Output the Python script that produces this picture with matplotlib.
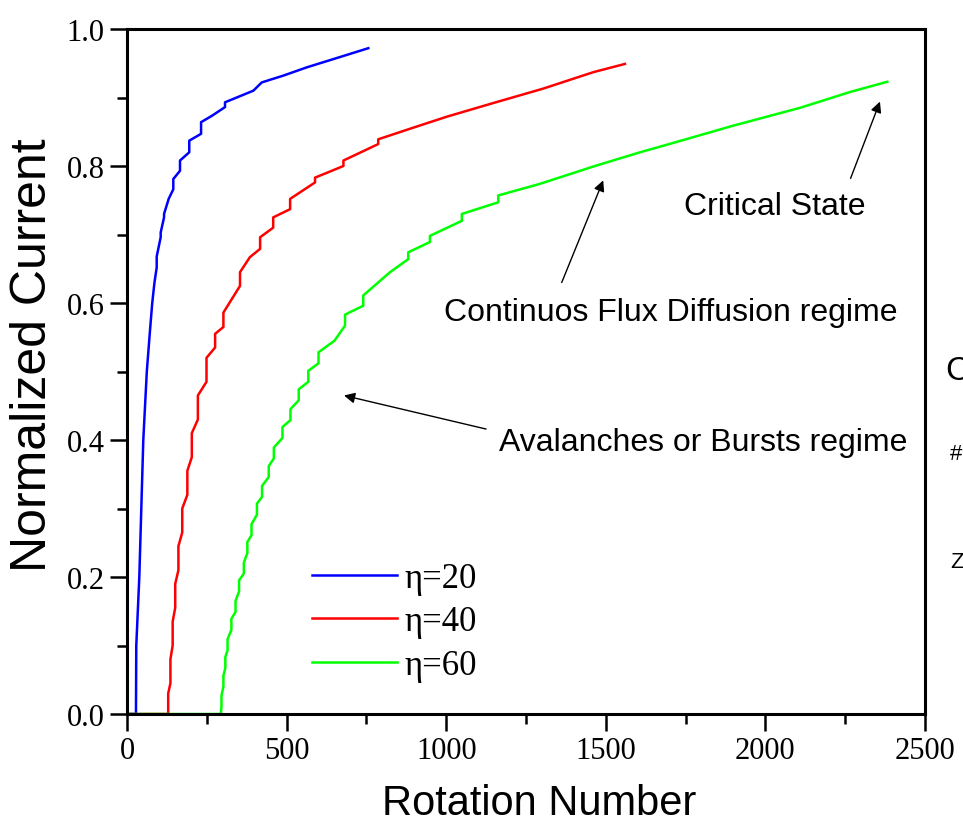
import matplotlib
matplotlib.use('Agg')
import matplotlib.pyplot as plt
from matplotlib.ticker import MultipleLocator, FormatStrFormatter

# normalized current vs rotation number, stair-like curves for three eta values
blue_x = [0, 28, 29, 38.5, 51, 62, 72, 79, 86, 93, 93, 105.5, 105.5, 116, 116, 130.5, 145, 145, 166, 166,
          195, 195, 232, 232, 265, 307, 307, 396, 422, 490, 563, 646, 756]
blue_y = [0, 0, 0.1, 0.2, 0.4, 0.5, 0.56, 0.6, 0.63, 0.652, 0.668, 0.696, 0.703, 0.725, 0.730, 0.752, 0.766,
          0.781, 0.793, 0.808, 0.820, 0.837, 0.847, 0.864, 0.873, 0.886, 0.893, 0.910, 0.922, 0.932, 0.944,
          0.956, 0.972]

red_x = [0, 129, 129, 136, 136, 143, 143, 151, 151, 161, 161, 173, 173, 189, 189, 203, 203, 222, 222, 249, 249,
         276, 276, 302, 302, 354, 354, 385, 417, 417, 458, 458, 511, 511, 589, 589, 678, 678, 787, 787,
         897, 1002, 1148, 1304, 1461, 1560]
red_y = [0, 0, 0.03, 0.045, 0.08, 0.1, 0.135, 0.155, 0.19, 0.21, 0.245, 0.265, 0.3, 0.32, 0.355, 0.375, 0.41,
         0.43, 0.465, 0.485, 0.52, 0.535, 0.555, 0.565, 0.586, 0.625, 0.645, 0.667, 0.679, 0.696, 0.710, 0.725,
         0.737, 0.752, 0.776, 0.783, 0.800, 0.808, 0.832, 0.839, 0.856, 0.872, 0.892, 0.913, 0.937, 0.949]

green_x = [0, 294, 296, 296, 302, 302, 308, 308, 315, 315, 327, 327, 340, 340, 351, 351, 366, 366, 377, 377,
           390, 390, 407, 407, 423, 423, 444, 444, 460, 460, 487, 487, 512, 512, 538, 538, 568, 568, 600, 600,
           650, 683, 683, 740, 740, 824, 881, 881, 949, 949, 1049, 1049, 1163, 1163, 1294, 1466, 1607, 1691,
           1900, 2109, 2265, 2382]
green_y = [0, 0, 0.011, 0.027, 0.040, 0.056, 0.067, 0.083, 0.093, 0.109, 0.123, 0.139, 0.149, 0.165, 0.179,
           0.195, 0.205, 0.221, 0.235, 0.251, 0.261, 0.277, 0.291, 0.307, 0.317, 0.333, 0.346, 0.362, 0.373,
           0.389, 0.403, 0.419, 0.429, 0.445, 0.458, 0.474, 0.485, 0.501, 0.512, 0.528, 0.545, 0.567, 0.583,
           0.596, 0.611, 0.645, 0.664, 0.674, 0.689, 0.698, 0.720, 0.730, 0.747, 0.757, 0.774, 0.800, 0.820,
           0.831, 0.859, 0.885, 0.908, 0.923]

labels = ['\u03b7=20', '\u03b7=40', '\u03b7=60']

fig = plt.figure(figsize=(9.63, 8.29), dpi=100)
ax = fig.add_axes([0.1319, 0.1375, 0.8286, 0.8263])

ax.plot(blue_x, blue_y, color='#0000ff', lw=1.8, label=labels[0])
ax.plot(red_x, red_y, color='#ff0000', lw=1.8, label=labels[1])
ax.plot(green_x, green_y, color='#00ff00', lw=1.8, label=labels[2])

ax.set_xlim(0, 2500)
ax.set_ylim(0, 1.0)
ax.xaxis.set_major_locator(MultipleLocator(500))
ax.xaxis.set_minor_locator(MultipleLocator(250))
ax.yaxis.set_major_locator(MultipleLocator(0.2))
ax.yaxis.set_minor_locator(MultipleLocator(0.1))
ax.yaxis.set_major_formatter(FormatStrFormatter('%.1f'))

for s in ax.spines.values():
    s.set_linewidth(2.2)
ax.tick_params(which='major', direction='out', length=12, width=1.8, pad=4)
ax.tick_params(which='minor', direction='out', length=7, width=1.8)
for lab in ax.get_xticklabels() + ax.get_yticklabels():
    lab.set_fontfamily('Liberation Serif')
    lab.set_fontsize(22)

ax.set_xlabel('Rotation Number', fontfamily='Liberation Sans', fontsize=30, labelpad=13)
ax.set_ylabel('Normalized Current', fontfamily='Liberation Sans', fontsize=36, labelpad=8)
ax.xaxis.label.set_x(0.517)
ax.yaxis.label.set_y(0.525)

leg = ax.legend(loc='upper left', bbox_to_anchor=(0.232, 0.222), frameon=False,
                prop={'family': 'Liberation Serif', 'size': 25}, handlelength=2.45,
                handletextpad=0.2, labelspacing=0.3, borderpad=0, borderaxespad=0)

arrow = dict(arrowstyle='-|>', color='black', lw=1.0, mutation_scale=16, shrinkA=0, shrinkB=0)
ax.annotate('', xy=(2359, 0.894), xytext=(2267, 0.782), arrowprops=arrow)
ax.annotate('', xy=(1492, 0.779), xytext=(1362, 0.630), arrowprops=arrow)
ax.annotate('', xy=(680, 0.465), xytext=(1125, 0.416), arrowprops=arrow)

txt = dict(fontfamily='Liberation Sans', fontsize=23, ha='center', va='center')
ax.text(2030, 0.742, 'Critical State', **txt)
ax.text(1704, 0.587, 'Continuos Flux Diffusion regime', **txt)
ax.text(1805, 0.397, 'Avalanches or Bursts regime', **txt)

# bits of the neighbouring panel's label cut off at the right edge
fig.text(945 / 963, 1 - 372 / 829, 'C', fontfamily='Liberation Sans', fontsize=24, va='center')
fig.text(950 / 963, 1 - 455 / 829, '#', fontfamily='Liberation Sans', fontsize=16, va='center')
fig.text(950 / 963, 1 - 563 / 829, 'Z', fontfamily='Liberation Sans', fontsize=16, va='center')

fig.savefig('out.png', dpi=100)
